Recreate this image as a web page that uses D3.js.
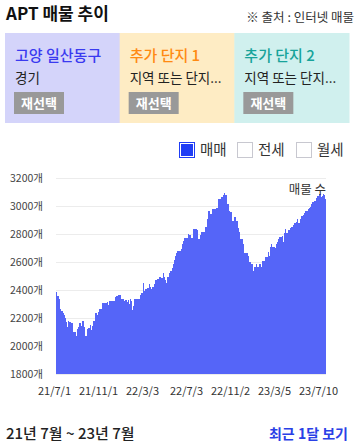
<!DOCTYPE html>
<html><head><meta charset="utf-8">
<script src="https://cdn.jsdelivr.net/npm/d3@7"></script>
<style>
html,body{margin:0;padding:0;background:#fff;}
svg{display:block;font-family:"Noto Sans CJK KR","Noto Sans",sans-serif;}
</style></head>
<body><svg id="c" width="358" height="447"></svg>
<script>
// ---- data ----
const counts = [
2386,2357,2357,2333,2262,2252,2252,2238,2224,2198,2174,2138,2181,2174,2174,2167,2167,2102,2102,2102,
2071,2121,2133,2167,2167,2145,2181,2181,2138,2071,2071,2124,2131,2131,2148,2114,2145,2181,2181,2238,
2238,2224,2245,2262,2267,2267,2310,2310,2310,2310,2310,2314,2291,2319,2319,2319,2319,2324,2324,2352,
2357,2357,2362,2362,2367,2338,2333,2333,2319,2329,2329,2314,2329,2300,2338,2319,2257,2286,2336,2336,
2336,2336,2336,2336,2362,2376,2376,2452,2393,2405,2405,2412,2412,2443,2424,2410,2419,2419,2443,2471,
2471,2476,2476,2490,2490,2485,2485,2519,2490,2471,2448,2490,2490,2524,2538,2538,2555,2586,2614,2643,
2667,2676,2676,2676,2676,2695,2729,2752,2771,2771,2774,2774,2800,2793,2793,2769,2769,2838,2838,2838,
2838,2829,2767,2767,2795,2814,2814,2814,2814,2852,2852,2905,2967,2967,2943,2943,2976,2976,2976,2976,
2986,2986,3048,3048,3048,3062,3062,3079,3095,3079,3079,3014,3014,2962,2960,2960,2895,2895,2919,2919,
2890,2890,2840,2817,2762,2762,2762,2726,2667,2667,2667,2667,2643,2602,2602,2586,2586,2538,2562,2562,
2586,2562,2562,2586,2586,2562,2605,2605,2605,2633,2633,2633,2674,2640,2710,2729,2710,2710,2705,2700,
2729,2745,2762,2776,2776,2776,2786,2743,2810,2833,2805,2805,2829,2829,2840,2852,2852,2864,2881,2881,
2888,2905,2881,2881,2905,2929,2929,2938,2948,2967,2967,2967,2976,2986,2995,3014,3029,3029,3038,3038,
3055,3071,3071,3086,3086,3062,3071,3086,3079,3052
];
const tickIndex = [0, 44, 88, 132, 176, 220, 264];
const tickLabels = ["21/7/1","21/11/1","22/3/3","22/7/3","22/11/2","23/3/5","23/7/10"];
const yTicks = [1800,2000,2200,2400,2600,2800,3000,3200];
const panelTitles = ["고양 일산동구","추가 단지 1","추가 단지 2"];
const panelSubs = ["경기","지역 또는 단지...","지역 또는 단지..."];
const legendItems = ["매매","전세","월세"];

const svg = d3.select("#c");

// header
svg.append("text").attr("x",6).attr("y",20).attr("font-size",17).attr("font-weight",700)
  .attr("fill","#111").text("APT 매물 추이");
svg.append("text").attr("x",354).attr("y",22).attr("text-anchor","end").attr("font-size",12.5)
  .attr("fill","#333").text("※ 출처 : 인터넷 매물");

// panels
const panelFill = ["#d4d4fa","#feecc4","#d0f0ee"];
const panelColor = ["#3a3af0","#ff8a12","#17a39a"];
const px = d3.scaleBand().domain(d3.range(3)).range([5,349]).padding(0);
const pg = svg.selectAll("g.panel").data(panelTitles).join("g").attr("class","panel")
  .attr("transform",(d,i)=>`translate(${px(i)},33)`);
pg.append("rect").attr("width",px.bandwidth()+0.5).attr("height",90).attr("fill",(d,i)=>panelFill[i]);
pg.append("text").attr("x",10).attr("y",28).attr("font-size",15).attr("font-weight",500)
  .attr("fill",(d,i)=>panelColor[i]).text(d=>d);
pg.append("text").attr("x",10).attr("y",50).attr("font-size",13.5).attr("fill","#222")
  .text((d,i)=>panelSubs[i]);
pg.append("rect").attr("x",9).attr("y",59).attr("width",50).attr("height",22).attr("fill","#999");
pg.append("text").attr("x",34).attr("y",75).attr("text-anchor","middle").attr("font-size",13)
  .attr("font-weight",700).attr("fill","#fff").text("재선택");

// legend
const lx = [179, 237, 296];
legendItems.forEach((t,i)=>{
  const g = svg.append("g").attr("transform",`translate(${lx[i]},142)`);
  if(i===0){
    g.append("rect").attr("x",0.5).attr("y",0.5).attr("width",15).attr("height",15)
      .attr("fill","#fff").attr("stroke","#1f3df5").attr("stroke-width",1);
    g.append("rect").attr("x",2).attr("y",2).attr("width",12).attr("height",12).attr("fill","#1f3df5");
  } else {
    g.append("rect").attr("x",0.5).attr("y",0.5).attr("width",15).attr("height",15)
      .attr("fill","#fff").attr("stroke","#c8c8d0").attr("stroke-width",1);
  }
  g.append("text").attr("x",21).attr("y",13).attr("font-size",14.5).attr("fill","#333").text(t);
});

// chart
const x = d3.scaleBand().domain(d3.range(counts.length)).range([56,326]).padding(0);
const y = d3.scaleLinear().domain([1800,3200]).range([374,178]);

svg.append("g").selectAll("line").data(yTicks).join("line")
  .attr("x1",56).attr("x2",326).attr("y1",d=>Math.round(y(d))+0.5).attr("y2",d=>Math.round(y(d))+0.5)
  .attr("stroke","#ececec").attr("stroke-width",1);

svg.append("g").selectAll("rect").data(counts).join("rect")
  .attr("x",(d,i)=>x(i)).attr("width",x.bandwidth()+0.3)
  .attr("y",d=>y(d)).attr("height",d=>y(1800)-y(d))
  .attr("fill","#5565f8").attr("shape-rendering","crispEdges");

const yAxis = svg.append("g").attr("transform","translate(43,0)")
  .call(d3.axisLeft(y).tickValues(yTicks).tickSize(0).tickPadding(0).tickFormat(d=>d+"개"));
yAxis.select(".domain").remove();
yAxis.selectAll("text").attr("font-size",10.5).attr("fill","#444")
  .attr("font-family","\"Noto Sans CJK KR\",sans-serif");

const xAxis = svg.append("g").attr("transform","translate(-2,387)")
  .call(d3.axisBottom(x).tickValues(tickIndex).tickSize(0).tickPadding(0)
    .tickFormat((d)=>tickLabels[tickIndex.indexOf(d)]));
xAxis.select(".domain").remove();
xAxis.selectAll("text").attr("font-size",11).attr("fill","#333")
  .attr("font-family","\"Noto Sans CJK KR\",sans-serif");

svg.append("text").attr("x",326).attr("y",194).attr("text-anchor","end").attr("font-size",12.5)
  .attr("fill","#333").text("매물 수");

// footer
svg.append("text").attr("x",6).attr("y",439).attr("font-size",15).attr("font-weight",500)
  .attr("fill","#222").text("21년 7월 ~ 23년 7월");
svg.append("text").attr("x",348).attr("y",439).attr("text-anchor","end").attr("font-size",14)
  .attr("font-weight",700).attr("fill","#2a40e6").text("최근 1달 보기");
</script></body></html>
